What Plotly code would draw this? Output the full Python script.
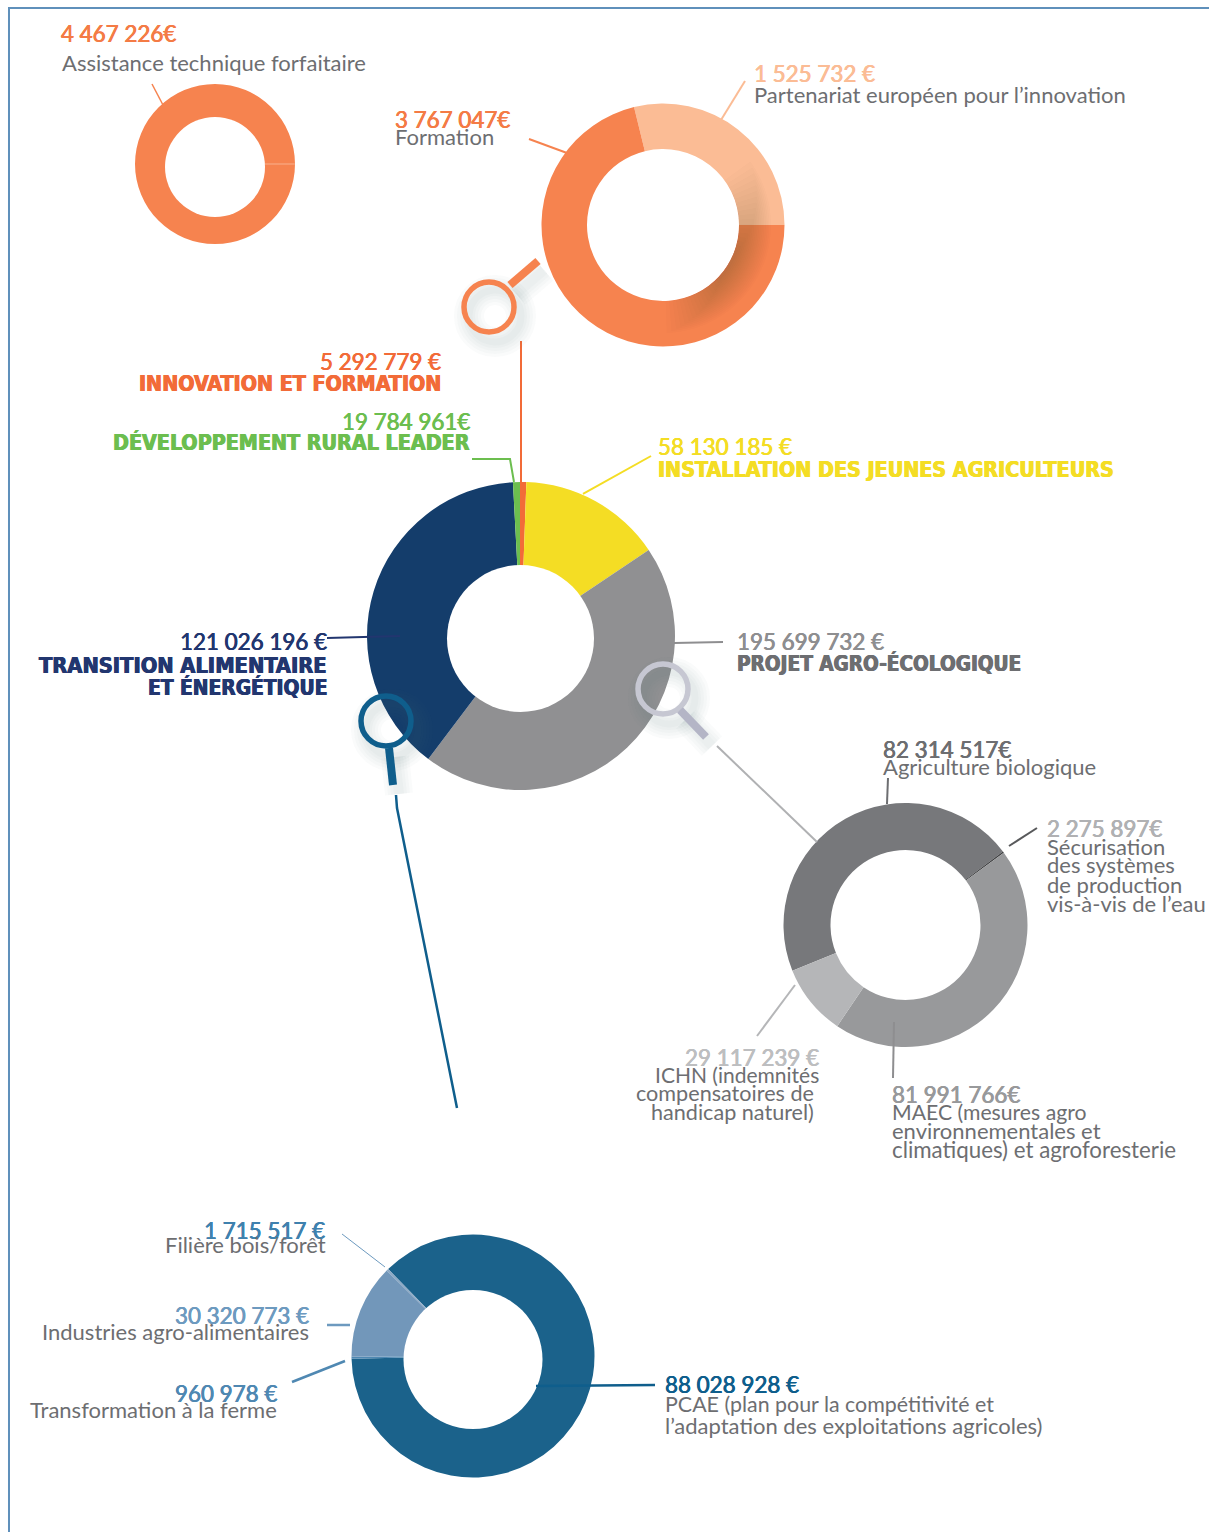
import math
import plotly.graph_objects as go

W, H = 1209, 1532

# ---- values printed on the chart
assist_amount = 4467226
innov_amounts = [1525732, 3767047]
main_amounts = [5292779, 58130185, 195699732, 121026196, 19784961]
agro_amounts = [82314517, 2275897, 81991766, 29117239]
trans_amounts = [88028928, 960978, 30320773, 1715517]

assist_slices = [360]
innov_slices = [103.8, 256.2]
main_slices = [2, 54, 161, 140, 3]
agro_slices = [165, 0.7, 160.3, 34]
trans_slices = [313, 1, 45, 1]

assist_colors = ["#F6834F"]
innov_colors = ["#FBBC95", "#F6834F"]
main_colors = ["#F26B38", "#F4DD24", "#909092", "#143D6B", "#6CBE4F"]
agro_colors = ["#77787B", "#3F4042", "#98999B", "#B5B6B8"]
trans_colors = ["#1B628B", "#4F88B2", "#7297BA", "#8CA9C5"]


def px(x):
    return x / W


def py(y):
    return 1 - y / H


def eur(v, sp=" "):
    return f"{v:,}".replace(",", " ") + sp + "€"


def donut(vals, cols, cx, cy, r, hole, rot, names):
    return go.Pie(values=vals, marker=dict(colors=cols, line=dict(width=0)),
                  labels=names, domain=dict(x=[px(cx - r), px(cx + r)], y=[py(cy + r), py(cy - r)]),
                  hole=hole / r, rotation=rot, sort=False, direction="clockwise",
                  textinfo="none", showlegend=False, hoverinfo="label")


fig = go.Figure()
fig.add_trace(donut(assist_slices, assist_colors, 215, 164, 80, 46, 90, ["Assistance technique forfaitaire"]))
fig.add_trace(donut(innov_slices, innov_colors, 663, 225, 121.5, 76, -13.8, ["Partenariat européen pour l’innovation", "Formation"]))
fig.add_trace(donut(main_slices, main_colors, 521, 636, 154, 70, 0,
                    ["Innovation et formation", "Installation des jeunes agriculteurs", "Projet agro-écologique",
                     "Transition alimentaire et énergétique", "Développement rural Leader"]))
fig.add_trace(donut(agro_slices, agro_colors, 905.5, 925, 122, 75, 248,
                    ["Agriculture biologique", "Sécurisation des systèmes", "MAEC", "ICHN"]))
fig.add_trace(donut(trans_slices, trans_colors, 473, 1356, 121.5, 65, -44.3,
                    ["PCAE", "Transformation à la ferme", "Industries agro-alimentaires", "Filière bois/forêt"]))

shapes = []


def line(pts, color, width=2):
    d = "M" + " L".join(f"{px(x):.5f},{py(y):.5f}" for x, y in pts)
    shapes.append(dict(type="path", path=d, xref="paper", yref="paper", line=dict(color=color, width=width), layer="above"))


def circle(cx, cy, r, fill=None, color=None, width=0):
    shapes.append(dict(type="circle", xref="paper", yref="paper",
                       x0=px(cx - r), x1=px(cx + r), y0=py(cy + r), y1=py(cy - r),
                       fillcolor=fill or "rgba(0,0,0,0)",
                       line=dict(color=color or "rgba(0,0,0,0)", width=width), layer="above"))


def sector(cx, cy, r0, r1, a0, a1, fill):
    pts = []
    n = 24
    for i in range(n + 1):
        a = math.radians(a0 + (a1 - a0) * i / n)
        pts.append((cx + r1 * math.sin(a), cy - r1 * math.cos(a)))
    for i in range(n, -1, -1):
        a = math.radians(a0 + (a1 - a0) * i / n)
        pts.append((cx + r0 * math.sin(a), cy - r0 * math.cos(a)))
    d = "M" + " L".join(f"{px(x):.5f},{py(y):.5f}" for x, y in pts) + " Z"
    shapes.append(dict(type="path", path=d, xref="paper", yref="paper", fillcolor=fill,
                       line=dict(width=0), layer="above"))


def magnifier(cx, cy, hx0, hy0, hx1, hy1, ring, handle, sdx=6, sdy=9):
    for w in (30, 24, 18, 12, 7):
        circle(cx + sdx, cy + sdy, 26, color="rgba(90,95,115,0.028)", width=w)
    for w in (28, 22, 16, 10):
        line([(hx0 + sdx, hy0 + sdy), (hx1 + sdx, hy1 + sdy)], "rgba(90,95,115,0.028)", w)
    circle(cx, cy, 25, color=ring, width=5.5)
    line([(hx0, hy0), (hx1, hy1)], handle, 8)


# off-centre white centres of three rings
circle(215, 167, 50, fill="white")
circle(520.5, 638.5, 73.5, fill="white")
circle(473, 1359.5, 69.5, fill="white")

# soft shading on the innovation ring
for i in range(18):
    sector(663, 225, 76, 108 - i * 1.7, 122 - (68 - i * 3.2), 122 + (56 - i * 2.6), "rgba(70,55,50,0.016)")

# frame
line([(9, H), (9, 8), (W, 8)], "#5F90BB", 2)

# leaders
line([(152, 84), (163, 105)], "#F6834F", 1.5)
line([(529, 139), (567, 153)], "#F6834F", 2)
line([(745, 81), (721, 120)], "#FBBC95", 2)
line([(521, 341), (521, 565)], "#F26B38", 2)
line([(472, 459), (510, 459), (514, 482)], "#6CBE4F", 2)
line([(651, 456), (583, 494)], "#F4DD24", 2)
line([(327, 638), (400, 636)], "#22366F", 2)
line([(674, 643), (723, 642)], "#8E8E90", 2)
line([(717, 746), (817, 842)], "#B0B1B3", 2)
line([(396, 795), (397, 808), (457, 1108)], "#0F5E8C", 2.5)
line([(888, 778), (887, 804)], "#6D6E71", 2)
line([(1037, 828), (1009, 846)], "#58595B", 2)
line([(757, 1036), (795, 985)], "#B5B6B8", 2)
line([(894, 1022), (893, 1078)], "#8E8E90", 2)
line([(342, 1234), (385, 1267)], "#6D9ABF", 1)
line([(327, 1325), (350, 1325)], "#6D9ABF", 2.5)
line([(292, 1382), (345, 1361)], "#4F88B2", 2.5)
line([(536, 1386), (655, 1385)], "#0F5E8C", 2.5)
line([(265, 164), (295, 164)], "#F9B08E", 1)

# magnifiers
magnifier(489, 307, 510, 285, 538, 261, "#F6834F", "#F6834F")
magnifier(663, 689, 680, 710, 706, 737, "#C6C7D2", "#B4B5C6")
magnifier(386, 721, 389, 748, 393, 785, "#0F5E8C", "#0F5E8C")

ann = []
REG = "Lato"
BOLD = "DejaVu Sans Condensed"
G = "#6D6E71"
AMT = 22.4
TXT = 22
HEAD = 21.3


def t(text, x, y, anchor="left", color=G, size=TXT, bold=False):
    heavy = size == AMT
    shadow = "none"
    if bold:
        shadow = f"0.5px 0 0 {color}, -0.5px 0 0 {color}"
    elif heavy:
        shadow = f"0.35px 0 0 {color}, -0.35px 0 0 {color}"
    if not bold and not heavy:
        y -= 1
    ann.append(dict(text=text, x=px(x), y=py(y), xref="paper", yref="paper", xanchor=anchor, yanchor="middle",
                    showarrow=False, align=anchor, xshift=-2 if anchor == "left" else 2,
                    font=dict(family=BOLD if bold else REG, size=size, color=color,
                              weight=700 if bold else 400, shadow=shadow)))


O = "#F47B45"
t(eur(assist_amount, ""), 61, 34, color=O, size=AMT)
t("Assistance technique forfaitaire", 62, 63)
t(eur(innov_amounts[0]), 754, 74, color="#FBBC95", size=AMT)
t("Partenariat européen pour l’innovation", 754, 95)
t(eur(innov_amounts[1], ""), 395, 119, color=O, size=AMT)
t("Formation", 395, 137)

t(eur(main_amounts[0]), 441, 361, "right", "#F26B38", AMT)
t("INNOVATION ET FORMATION", 441, 384, "right", "#F26B38", HEAD, True)
t(eur(main_amounts[4], ""), 470, 421, "right", "#6CBE4F", AMT)
t("DÉVELOPPEMENT RURAL LEADER", 470, 443, "right", "#6CBE4F", HEAD, True)
t(eur(main_amounts[1]), 658, 446, "left", "#F4DD24", AMT)
t("INSTALLATION DES JEUNES AGRICULTEURS", 658, 470, "left", "#F4DD24", HEAD, True)
t(eur(main_amounts[3]), 327, 641, "right", "#22366F", AMT)
t("TRANSITION ALIMENTAIRE", 327, 665, "right", "#22366F", 21.7, True)
t("ET ÉNERGÉTIQUE", 327, 687, "right", "#22366F", 20.8, True)
t(eur(main_amounts[2]), 737, 641, "left", "#8E8E90", AMT)
t("PROJET AGRO-ÉCOLOGIQUE", 737, 664, "left", G, 20.6, True)

t(eur(agro_amounts[0], ""), 883, 750, "left", G, AMT)
t("Agriculture biologique", 883, 767)
t(eur(agro_amounts[1], ""), 1047, 829, "left", "#B0B1B3", AMT)
for s, y in zip(["Sécurisation", "des systèmes", "de production", "vis-à-vis de l’eau"], [847, 866, 885, 904]):
    t(s, 1047, y)
t(eur(agro_amounts[3]), 819, 1057, "right", "#BDBEC0", AMT)
t("ICHN (indemnités", 819, 1075, "right", size=21)
t("compensatoires de", 814, 1094, "right", size=21.6)
t("handicap naturel)", 814, 1113, "right", size=21.6)
t(eur(agro_amounts[2], ""), 892, 1094, "left", "#98999B", AMT)
t("MAEC (mesures agro", 892, 1113, size=21.2)
t("environnementales et", 892, 1131)
t("climatiques) et agroforesterie", 892, 1150, size=22.3)

t(eur(trans_amounts[3]), 325, 1230, "right", "#3F81AE", AMT)
t("Filière bois/forêt", 326, 1245, "right")
t(eur(trans_amounts[2]), 309, 1315, "right", "#6D9ABF", AMT)
t("Industries agro-alimentaires", 309, 1332, "right")
t(eur(trans_amounts[1]), 277, 1393, "right", "#4F88B2", AMT)
t("Transformation à la ferme", 277, 1410, "right")
t(eur(trans_amounts[0]), 665, 1384, "left", "#0F5E8C", AMT)
t("PCAE (plan pour la compétitivité et", 665, 1405, size=21.4)
t("l’adaptation des exploitations agricoles)", 665, 1426)

fig.update_layout(width=W, height=H, margin=dict(l=0, r=0, t=0, b=0), paper_bgcolor="white", plot_bgcolor="white",
                  shapes=shapes, annotations=ann, showlegend=False)
fig.write_html("out.html", config=dict(displayModeBar=False),
               post_script="document.body.style.margin='0';document.body.style.overflow='hidden';")
